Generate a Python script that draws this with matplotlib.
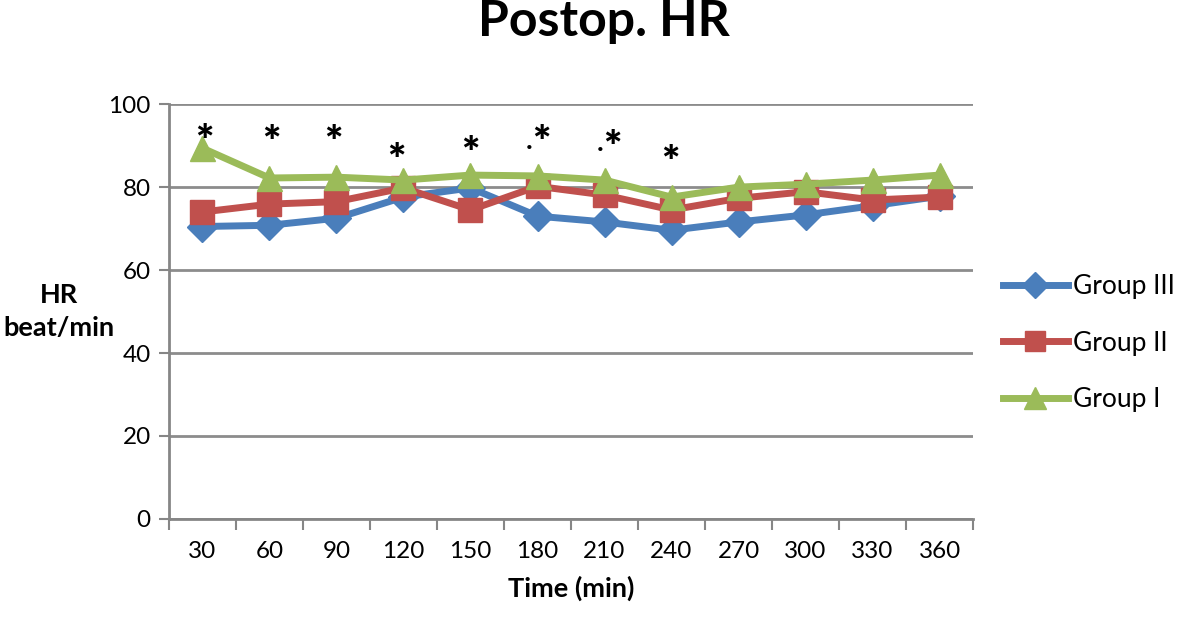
import matplotlib
matplotlib.use("Agg")
import matplotlib.pyplot as plt

plt.rcParams['font.family'] = ['Lato', 'DejaVu Sans']

times = ["30", "60", "90", "120", "150", "180", "210", "240", "270", "300", "330", "360"]
group3 = [70.5, 70.8, 72.5, 77.6, 79.8, 73.0, 71.6, 69.6, 71.6, 73.3, 75.5, 77.8]
group2 = [74.0, 75.9, 76.5, 79.8, 74.5, 80.2, 78.1, 74.5, 77.3, 78.9, 76.9, 77.6]
group1 = [89.4, 82.2, 82.4, 81.7, 82.9, 82.7, 81.7, 77.6, 80.0, 80.7, 81.7, 82.9]
sig_y = [90.7, 90.5, 90.5, 86.1, 87.7, 90.3, 89.3, 85.5]
sig_dx = [0.03, 0.03, -0.05, -0.1, 0.0, 0.06, 0.11, -0.02]
dots = [(5, -0.12, 88.0), (6, -0.07, 87.5)]

fig = plt.figure(figsize=(11.81, 6.2), dpi=100)
ax = fig.add_axes([0.143, 0.163, 0.681, 0.669])

x = list(range(len(times)))
ax.plot(x, group3, color='#4A7EBB', lw=5, marker='D', ms=15, label='Group III', zorder=3)
ax.plot(x, group2, color='#C0504D', lw=5, marker='s', ms=17, label='Group II', zorder=4)
ax.plot(x, group1, color='#9BBB59', lw=5, marker='^', ms=18, label='Group I', zorder=5)

for i, (yy, dx) in enumerate(zip(sig_y, sig_dx)):
    ax.text(i + dx, yy, '*', ha='center', va='center', fontsize=31, fontweight='heavy', zorder=6)
for i, dx, yy in dots:
    ax.text(i + dx, yy, '.', ha='center', va='bottom', fontsize=20, fontweight='bold', zorder=6)

ax.set_ylim(0, 100)
ax.set_yticks([0, 20, 40, 60, 80, 100])
ax.set_xlim(-0.5, len(times) - 0.5)
ax.set_xticks([i - 0.5 for i in range(len(times) + 1)])
ax.set_xticklabels([])
ax.set_xticks(x, minor=True)
ax.set_xticklabels(times, minor=True)
ax.tick_params(axis='x', which='major', length=8, width=1.5, color='#868686', direction='out')
ax.tick_params(axis='x', which='minor', length=0, labelsize=17.5, pad=16)
ax.tick_params(axis='y', length=7, width=1.5, color='#868686', labelsize=17.5, pad=6)

ax.grid(axis='y', color='#8C8C8C', lw=2)
ax.set_axisbelow(True)
for s in ['top', 'right']:
    ax.spines[s].set_visible(False)
for s in ['left', 'bottom']:
    ax.spines[s].set_color('#868686')
    ax.spines[s].set_linewidth(2)

ax.set_xlabel('Time (min)', fontsize=19.5, fontweight='bold', labelpad=10)
fig.text(0.05, 0.498, 'HR\nbeat/min', ha='center', va='center', fontsize=19.5, fontweight='bold', linespacing=1.45)
fig.suptitle('Postop. HR', fontsize=36, fontweight='bold', y=0.965, x=0.511, va='center')

leg = ax.legend(loc='center left', bbox_to_anchor=(1.037, 0.424), frameon=False, fontsize=19,
                handlelength=2.45, labelspacing=1.2, handletextpad=0.2, markerscale=0.85,
                borderaxespad=0, borderpad=0)

fig.savefig('out.png', dpi=100)
